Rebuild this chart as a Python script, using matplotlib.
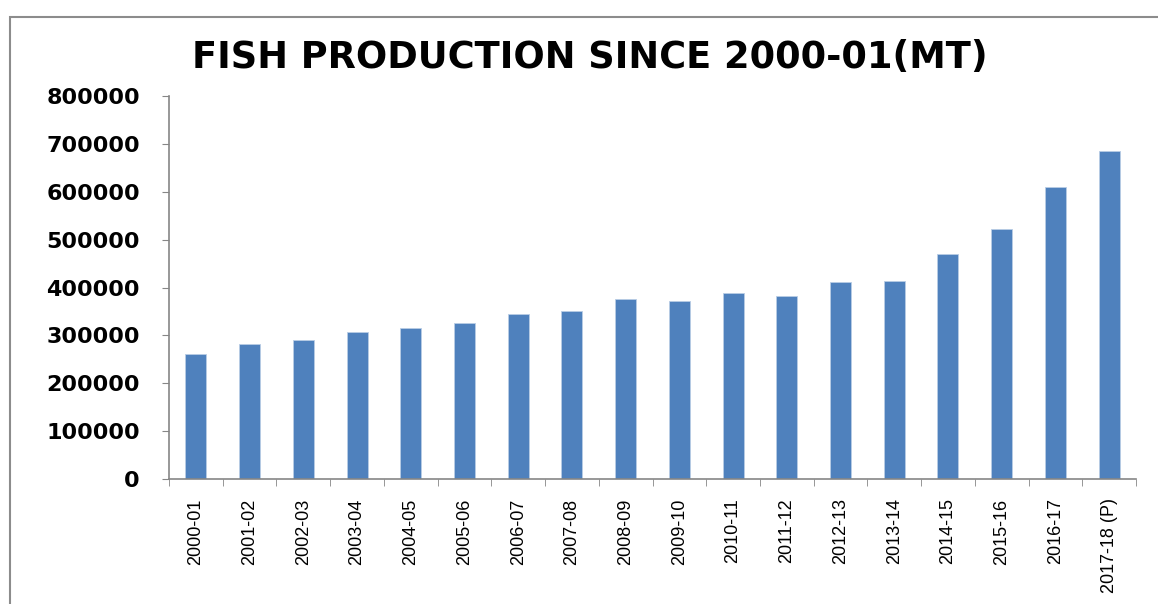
import matplotlib.pyplot as plt
from matplotlib.patches import Rectangle
import numpy as np

# --- data (MT) ---
years = ["2000-01", "2001-02", "2002-03", "2003-04", "2004-05", "2005-06",
         "2006-07", "2007-08", "2008-09", "2009-10", "2010-11", "2011-12",
         "2012-13", "2013-14", "2014-15", "2015-16", "2016-17", "2017-18 (P)"]
production = [260300, 281600, 290000, 307500, 315900, 325700,
              343800, 350100, 375800, 371600, 387600, 382000,
              411300, 413400, 469100, 521300, 609000, 684800]
y_ticks = [0, 100000, 200000, 300000, 400000, 500000, 600000, 700000, 800000]

bar_color = '#4F81BD'
axis_color = '#868686'

fig = plt.figure(figsize=(11.58, 6.04), dpi=100)
fig.patches.append(Rectangle((10/1158, -0.05), 1.1, 1 - 17/604 + 0.05,
                             transform=fig.transFigure, fill=False,
                             edgecolor='#8c8c8c', linewidth=1.5))

ax = fig.add_axes([169/1158, 1 - 479/604, (1136 - 169)/1158, (479 - 96)/604])
x = np.arange(len(years))
ax.bar(x, production, width=0.39, color=bar_color, edgecolor='#B9CDE5', linewidth=0.6)

ax.set_xlim(-0.5, len(years) - 0.5)
ax.set_ylim(0, 800000)
ax.set_yticks(y_ticks)
ax.set_yticklabels([str(v) for v in y_ticks], fontsize=16, fontweight='bold')
ax.tick_params(axis='y', length=5, color=axis_color, pad=16)

ax.set_xticks(x)
ax.set_xticklabels(years, rotation=90, fontsize=13, family='Liberation Sans')
ax.tick_params(axis='x', which='major', length=0, pad=14)
ax.set_xticks(np.arange(-0.5, len(years)), minor=True)
ax.tick_params(axis='x', which='minor', length=5, color=axis_color)

for s in ['top', 'right']:
    ax.spines[s].set_visible(False)
for s in ['left', 'bottom']:
    ax.spines[s].set_color(axis_color)
    ax.spines[s].set_linewidth(1.2)

fig.text(590/1158, 1 - 57/604, 'FISH PRODUCTION SINCE 2000-01(MT)',
         ha='center', va='center', fontsize=26.5, fontweight='bold')

fig.savefig('out.png', dpi=100)
